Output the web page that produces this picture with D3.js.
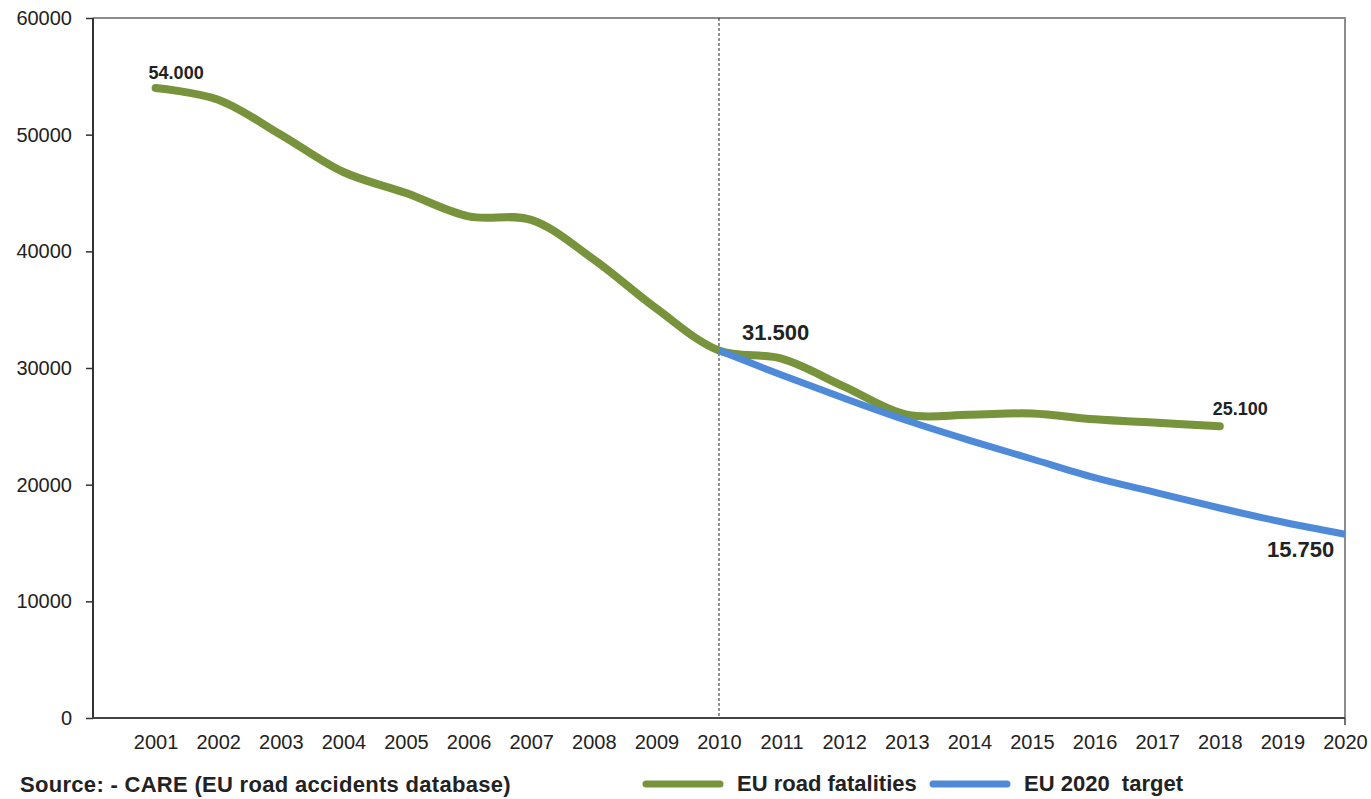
<!DOCTYPE html>
<html>
<head>
<meta charset="utf-8">
<script src="https://cdn.jsdelivr.net/npm/d3@7"></script>
<style>
  body { margin: 0; background: #fff; }
  text { font-family: "Liberation Sans", Arial, sans-serif; fill: #222; }
</style>
</head>
<body>
<script>
var width = 1371,
    height = 799;

// data
var years = [2001, 2002, 2003, 2004, 2005, 2006, 2007, 2008, 2009, 2010,
             2011, 2012, 2013, 2014, 2015, 2016, 2017, 2018];
var fatalities = [54000, 53000, 50000, 46800, 45000, 43000, 42700, 39300, 35100, 31500,
                  30800, 28400, 26000, 26000, 26100, 25600, 25300, 25000];
var targetYears = [2010, 2011, 2012, 2013, 2014, 2015, 2016, 2017, 2018, 2019, 2020];
var target = [31500, 29400, 27400, 25500, 23800, 22200, 20600, 19300, 18000, 16800, 15750];
var tickYears = d3.range(2001, 2021);
var yTicks = [0, 10000, 20000, 30000, 40000, 50000, 60000];
var labels = [
  {year: 2001, value: 54000, text: "54.000", size: 18, dx: -7, dy: -9},
  {year: 2010, value: 31500, text: "31.500", size: 22, dx: 23, dy: -11},
  {year: 2018, value: 25000, text: "25.100", size: 18, dx: -7, dy: -11},
  {year: 2020, value: 15750, text: "15.750", size: 22, dx: -78, dy: 23}
];

var mLeft = 93, mRight = 1345, mTop = 18, mBottom = 718;

var svg = d3.select("body").append("svg")
    .attr("width", width)
    .attr("height", height);

var x = d3.scaleLinear().domain([2000, 2020]).range([mLeft, mRight]);
var y = d3.scaleLinear().domain([0, 60000]).range([mBottom, mTop]);

// plot frame (grey top and right)
svg.append("path")
    .attr("d", "M" + [mLeft, mTop] + "H" + mRight + "V" + mBottom)
    .attr("fill", "none")
    .attr("stroke", "#8c8c8c")
    .attr("stroke-width", 2);

// dashed 2010 line
svg.append("line")
    .attr("x1", x(2010)).attr("x2", x(2010))
    .attr("y1", mTop).attr("y2", mBottom)
    .attr("stroke", "#222")
    .attr("stroke-width", 1)
    .attr("stroke-dasharray", "3,2");

// y axis
var yAxis = svg.append("g")
    .attr("transform", "translate(" + mLeft + ",0)")
    .call(d3.axisLeft(y).tickValues(yTicks).tickSize(7).tickPadding(14).tickFormat(d3.format("d")));
yAxis.selectAll("text").style("font-size", "20px").attr("fill", "#333");

// x axis
var xAxis = svg.append("g")
    .attr("transform", "translate(0," + mBottom + ")")
    .call(d3.axisBottom(x).tickValues(tickYears).tickSize(0).tickPadding(17).tickFormat(d3.format("d")));
xAxis.selectAll("text").style("font-size", "20px").attr("fill", "#333");

svg.selectAll(".domain").remove();
svg.append("line")
    .attr("x1", mLeft).attr("x2", mLeft).attr("y1", mTop).attr("y2", mBottom + 1)
    .attr("stroke", "#333").attr("stroke-width", 2);
svg.append("line")
    .attr("x1", mLeft - 1).attr("x2", mRight).attr("y1", mBottom).attr("y2", mBottom)
    .attr("stroke", "#444").attr("stroke-width", 2);
svg.append("line")
    .attr("x1", mRight).attr("x2", mRight).attr("y1", mBottom).attr("y2", mBottom + 7)
    .attr("stroke", "#444").attr("stroke-width", 1.5);
yAxis.selectAll("line").attr("stroke", "#333").attr("stroke-width", 1.5);

var line = d3.line()
    .curve(d3.curveCatmullRom.alpha(0.5))
    .x(function(d) { return x(d[0]); })
    .y(function(d) { return y(d[1]); });

svg.append("path")
    .datum(years.map(function(d, i) { return [d, fatalities[i]]; }))
    .attr("fill", "none")
    .attr("stroke", "#77933c")
    .attr("stroke-width", 8)
    .attr("stroke-linecap", "round")
    .attr("d", line);

svg.append("path")
    .datum(targetYears.map(function(d, i) { return [d, target[i]]; }))
    .attr("fill", "none")
    .attr("stroke", "#4f8ad9")
    .attr("stroke-width", 7)
    .attr("stroke-linecap", "butt")
    .attr("d", line);

svg.selectAll(".val")
    .data(labels)
    .enter().append("text")
    .attr("x", function(d) { return x(d.year) + d.dx; })
    .attr("y", function(d) { return y(d.value) + d.dy; })
    .style("font-size", function(d) { return d.size + "px"; })
    .style("font-weight", "bold")
    .text(function(d) { return d.text; });

// footer
svg.append("text")
    .attr("x", 20).attr("y", 792)
    .style("font-size", "22px").style("font-weight", "bold")
    .style("letter-spacing", "0.3px")
    .text("Source: - CARE (EU road accidents database)");

var legend = [
  {name: "EU road fatalities", color: "#77933c", x: 646},
  {name: "EU 2020  target", color: "#4f8ad9", x: 933}
];
var lg = svg.selectAll(".leg")
    .data(legend)
    .enter().append("g")
    .attr("transform", function(d) { return "translate(" + d.x + ",784)"; });
lg.append("line")
    .attr("x1", 0).attr("x2", 74)
    .attr("stroke", function(d) { return d.color; })
    .attr("stroke-width", 7)
    .attr("stroke-linecap", "round");
lg.append("text")
    .attr("x", 91).attr("y", 7)
    .style("font-size", "22px").style("font-weight", "bold")
    .style("white-space", "pre")
    .attr("xml:space", "preserve")
    .text(function(d) { return d.name; });
</script>
</body>
</html>
